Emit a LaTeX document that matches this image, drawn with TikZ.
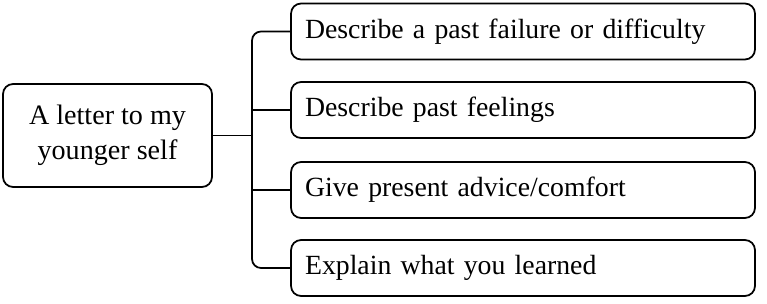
\documentclass[tikz,border=0pt]{standalone}
\usepackage{fontspec}
\setmainfont{Liberation Serif}
\usetikzlibrary{
	positioning,
	calc
}

\begin{document}
\begin{tikzpicture}[
		x=0.02cm, y=-0.02cm,
		rootbox/.style={draw, rectangle, rounded corners=0.2cm, line width=1pt, align=center, minimum width=4.18cm, minimum height=2.06cm, font=\fontsize{16}{20}\selectfont},
		itembox/.style={draw, rectangle, rounded corners=0.2cm, line width=1pt, align=left, inner xsep=0.28cm, text width=8.72cm, minimum height=1.12cm, font=\fontsize{15.8}{20}\selectfont},
		link/.style={line width=1pt}
		]
		\useasboundingbox (0,0) rectangle (767,304);
		
		% --- Left box ---
		\node[rootbox] (letter) at (107.5,135.5)
		{A letter to my \\ younger self};
		
		% --- Right column ---
		\node[itembox] (failure) at (523,31.5) {Describe a past failure or difficulty};
		\node[itembox] (feelings) at (523,110) {Describe past feelings};
		\node[itembox] (advice) at (523,190) {Give present advice/comfort};
		\node[itembox] (learned) at (523,268) {Explain what you learned};
		
		% --- Connectors ---
		\coordinate (junction) at (252,135.5);
		\draw[link] (letter) -- (junction);
		\draw[link, rounded corners=0.18cm] (failure.west) -| (junction) |- (learned.west);
		\draw[link] (junction |- feelings.west) -- (feelings.west);
		\draw[link] (junction |- advice.west) -- (advice.west);
		
	\end{tikzpicture}
\end{document}
